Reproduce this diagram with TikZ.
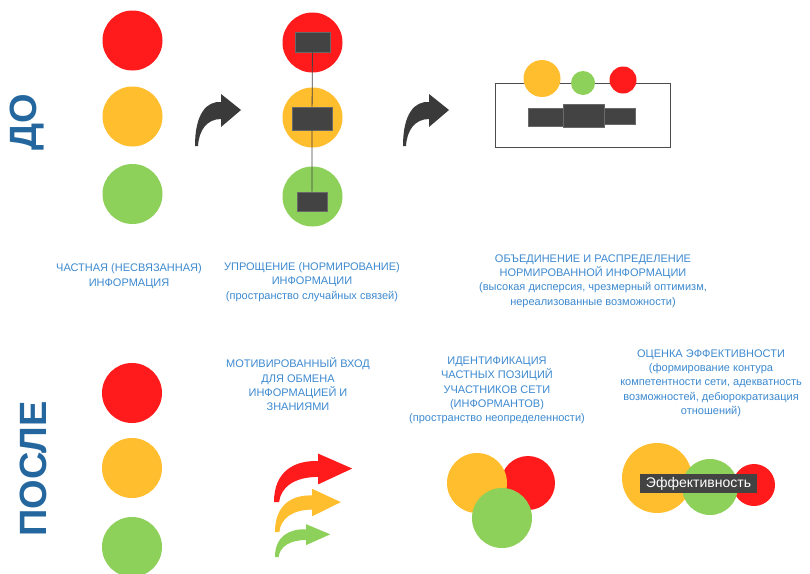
\documentclass[tikz,border=0pt]{standalone}
\usepackage{fontspec}
\setmainfont{Liberation Sans}
\begin{document}
\begin{tikzpicture}[x=1pt,y=-1pt,
  dot/.style={circle,inner sep=0pt,minimum size=#1},
  redc/.style={fill=cred},
  orac/.style={fill=corange},
  grec/.style={fill=cgreen},
  blk/.style={fill=cdark,draw=cdark!80!white,line width=0.6pt,inner sep=0pt},
  lbl/.style={align=center,text=ctext,font=\fontsize{11}{14.3}\selectfont},
  big/.style={text=cbig,font=\bfseries\fontsize{#1}{#1}\selectfont,rotate=90,anchor=base,inner sep=0pt},
  carrow/.pic={\fill[pic actions] (0,0) .. controls (0,-33) and (12,-45) .. (26,-44) -- (26,-52) -- (46,-36) -- (26,-19) -- (26,-27) .. controls (12,-27) and (4,-16) .. (3,0) -- cycle;}
]
\definecolor{cred}{HTML}{FF1A1C}
\definecolor{corange}{HTML}{FFBE2D}
\definecolor{cgreen}{HTML}{8DD05A}
\definecolor{cdark}{HTML}{434343}
\definecolor{ctext}{HTML}{3D8AD0}
\definecolor{cbig}{HTML}{24679F}
\definecolor{carr}{HTML}{3A3A3A}
\useasboundingbox (0,0) rectangle (810,573);
\fill[white] (0,0) rectangle (810,573);

% big labels
\node[big=38] (do) at (36.5,122.5) {ДО};
\node[big=38] (posle) at (46.5,469) {ПОСЛЕ};

% column 1 (before)
\node[dot=60pt,redc] (a1) at (132.5,40.5) {};
\node[dot=60pt,orac] (a2) at (132.5,116.5) {};
\node[dot=60pt,grec] (a3) at (132.5,194) {};
\node[lbl] (ta) at (129,276) {ЧАСТНАЯ (НЕСВЯЗАННАЯ)\\ИНФОРМАЦИЯ};

% arrows
\pic[fill=carr] at (195,146) {carrow};
\pic[fill=carr] at (403,146) {carrow};

% column 2
\node[dot=60pt,redc] (b1) at (312.5,42.5) {};
\node[dot=60pt,orac] (b2) at (312.5,117.5) {};
\node[dot=60pt,grec] (b3) at (312.5,196.5) {};
\node[blk,minimum width=35pt,minimum height=20pt] (r1) at (312.5,42) {};
\node[blk,minimum width=40pt,minimum height=23pt] (r2) at (312,118.5) {};
\node[blk,minimum width=30pt,minimum height=19pt] (r3) at (312,201.5) {};
\draw[cdark,line width=0.8pt] (r1) -- (r2) -- (r3);
\node[lbl] (tb) at (312,282) {УПРОЩЕНИЕ (НОРМИРОВАНИЕ)\\ИНФОРМАЦИИ\\(пространство случайных связей)};

% column 3
\node[draw=black!70,line width=0.7pt,fill=white,minimum width=175pt,minimum height=64pt,inner sep=0pt] (box) at (582.5,115) {};
\node[dot=37pt,orac] (c1) at (542,78.5) {};
\node[dot=24pt,grec] (c2) at (583,83) {};
\node[dot=27pt,redc] (c3) at (623,80) {};
\node[blk,minimum width=35pt,minimum height=18pt] (s1) at (545.5,117) {};
\node[blk,minimum width=31pt,minimum height=16pt] (s3) at (619.5,116) {};
\node[blk,minimum width=41pt,minimum height=23pt] (s2) at (583.5,115.5) {};
\node[lbl] (tc) at (593,281) {ОБЪЕДИНЕНИЕ И РАСПРЕДЕЛЕНИЕ\\НОРМИРОВАННОЙ ИНФОРМАЦИИ\\(высокая дисперсия, чрезмерный оптимизм,\\нереализованные возможности)};

% column 1 (after)
\node[dot=60pt,redc] (d1) at (132,393) {};
\node[dot=60pt,orac] (d2) at (132,468) {};
\node[dot=60pt,grec] (d3) at (132,547) {};

% column 2 (after)
\node[lbl] (te) at (298,384.5) {МОТИВИРОВАННЫЙ ВХОД\\ДЛЯ ОБМЕНА\\ИНФОРМАЦИЕЙ И\\ЗНАНИЯМИ};
\pic[fill=cred,xscale=1.7,yscale=0.93] at (274,502) {carrow};
\pic[fill=corange,xscale=1.43,yscale=0.83] at (275,532) {carrow};
\pic[fill=cgreen,xscale=1.2,yscale=0.63] at (275,557) {carrow};

% column 3 (after)
\node[lbl] (tf) at (497,390.5) {ИДЕНТИФИКАЦИЯ\\ЧАСТНЫХ ПОЗИЦИЙ\\УЧАСТНИКОВ СЕТИ\\(ИНФОРМАНТОВ)\\(пространство неопределенности)};
\node[dot=54pt,redc] (f3) at (528,483) {};
\node[dot=60pt,orac] (f1) at (477,483) {};
\node[dot=60pt,grec] (f2) at (502,518) {};

% column 4 (after)
\node[lbl] (tg) at (711,383) {ОЦЕНКА ЭФФЕКТИВНОСТИ\\(формирование контура\\компетентности сети, адекватность\\возможностей, дебюрократизация\\отношений)};
\node[dot=70pt,orac] (g1) at (657,478) {};
\node[dot=42pt,redc] (g3) at (754,485) {};
\node[dot=56pt,grec] (g2) at (710,487) {};
\node[fill=cdark,text=white,inner sep=0pt,minimum width=117pt,minimum height=19pt,font=\fontsize{14}{14}\selectfont] (eff) at (698.5,483.5) {Эффективность};
\end{tikzpicture}
\end{document}
